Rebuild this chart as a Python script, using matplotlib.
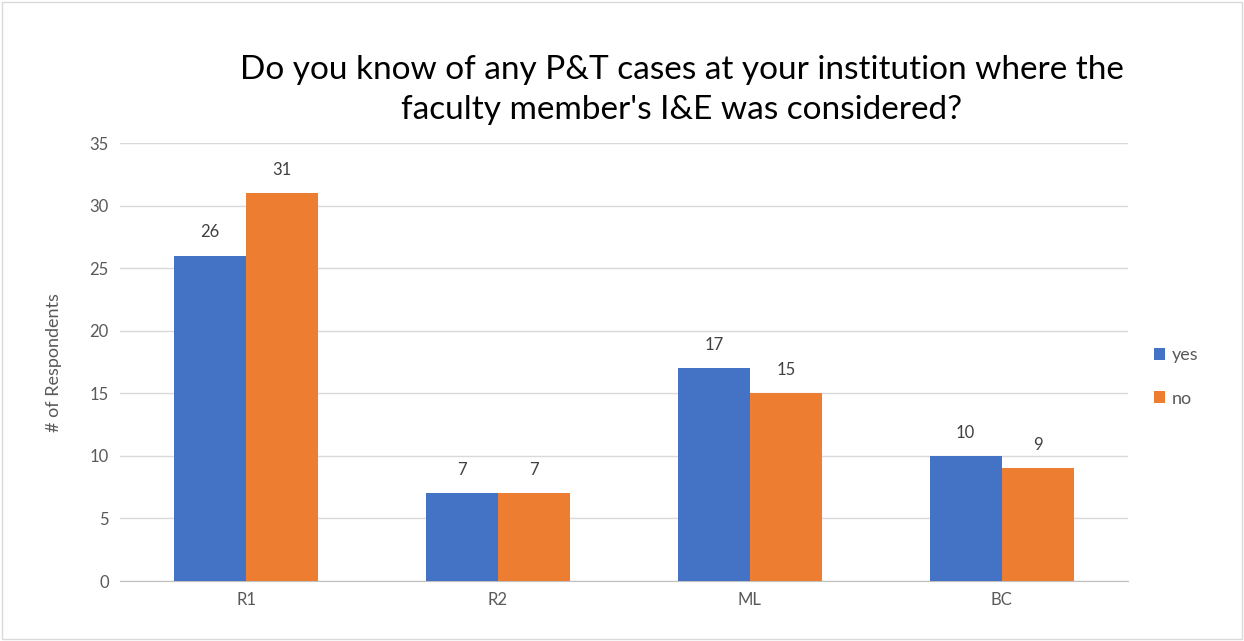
import numpy as np
import matplotlib.pyplot as plt

categories = ["R1", "R2", "ML", "BC"]
yes_vals = [26, 7, 17, 10]
no_vals = [31, 7, 15, 9]
series_names = ["yes", "no"]
yticks = [0, 5, 10, 15, 20, 25, 30, 35]

blue = "#4472c4"
orange = "#ed7d31"
txt = "#595959"

plt.rcParams['font.family'] = ['Lato', 'DejaVu Sans']

fig = plt.figure(figsize=(12.44, 6.41), dpi=100)
ax = fig.add_axes([0.0965, 0.0936, 0.81, 0.683])

x = np.arange(len(categories))
w = 0.286
b1 = ax.bar(x - w/2, yes_vals, w, color=blue, label=series_names[0], zorder=3)
b2 = ax.bar(x + w/2, no_vals, w, color=orange, label=series_names[1], zorder=3)

for bars in (b1, b2):
    for p in bars:
        ax.annotate(f'{p.get_height():.0f}', (p.get_x() + p.get_width()/2, p.get_height()),
                    xytext=(0, 11), textcoords='offset points',
                    ha='center', va='bottom', fontsize=12, color="#404040")

ax.set_xlim(-0.5, len(categories) - 0.5)
ax.set_ylim(0, 35)
ax.set_yticks(yticks)
ax.set_xticks(x)
ax.set_xticklabels(categories)
ax.tick_params(length=0, labelsize=12, colors=txt, pad=8)
ax.yaxis.grid(True, color="#d9d9d9", linewidth=1, zorder=0)
for s in ["top", "right", "left"]:
    ax.spines[s].set_visible(False)
ax.spines["bottom"].set_color("#bfbfbf")
ax.set_ylabel("# of Respondents", fontsize=13, color=txt, labelpad=20)

fig.text(0.548, 0.86, "Do you know of any P&T cases at your institution where the\nfaculty member's I&E was considered?",
         ha='center', va='center', fontsize=24, color="#000000", linespacing=1.4)

ax.legend(loc='center left', bbox_to_anchor=(1.01, 0.466), frameon=False,
          fontsize=13, handlelength=0.6, handleheight=0.6, handletextpad=0.4,
          labelspacing=1.5, labelcolor=txt)

fig.add_artist(plt.Rectangle((0.002, 0.003), 0.996, 0.994, transform=fig.transFigure,
                             fill=False, edgecolor="#d9d9d9", linewidth=1))

fig.savefig("out.png", dpi=100)
